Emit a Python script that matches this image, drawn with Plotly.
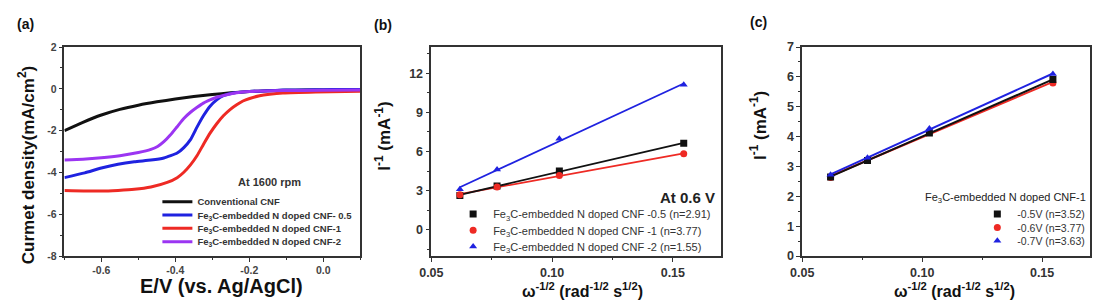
import plotly.graph_objects as go
import numpy as np

W, H = 1098, 305
FONT = "Liberation Sans, Arial, sans-serif"

# ---------------- data: panel (a) LSV curves ----------------
a_names = ["Conventional CNF",
           "Fe<sub>3</sub>C-embedded N doped CNF- 0.5",
           "Fe<sub>3</sub>C-embedded N doped CNF-1",
           "Fe<sub>3</sub>C-embedded N doped CNF-2"]
cnf_x = [-0.70, -0.65, -0.60, -0.55, -0.50, -0.45, -0.40, -0.35, -0.30, -0.25,
         -0.20, -0.15, -0.10, -0.05, 0.00, 0.05, 0.10]
cnf_y = [-2.00, -1.60, -1.25, -0.98, -0.78, -0.62, -0.49, -0.37, -0.27, -0.19,
         -0.13, -0.09, -0.07, -0.06, -0.06, -0.05, -0.05]
cnf05_x = [-0.700, -0.645, -0.600, -0.555, -0.511, -0.466, -0.431, -0.395, -0.377, -0.359,
           -0.341, -0.324, -0.306, -0.288, -0.270, -0.243, -0.199, -0.150, -0.109, -0.050,
           0.000, 0.050, 0.100]
cnf05_y = [-4.25, -4.02, -3.79, -3.61, -3.49, -3.41, -3.31, -3.07, -2.81, -2.43,
           -1.82, -1.29, -0.83, -0.53, -0.33, -0.20, -0.12, -0.09, -0.06, -0.05,
           -0.04, -0.03, -0.03]
cnf1_x = [-0.700, -0.600, -0.555, -0.511, -0.466, -0.422, -0.395, -0.377, -0.359, -0.341,
          -0.324, -0.306, -0.288, -0.270, -0.252, -0.234, -0.217, -0.199, -0.172, -0.145,
          -0.109, -0.020, 0.100]
cnf1_y = [-4.86, -4.89, -4.86, -4.81, -4.70, -4.48, -4.25, -3.99, -3.64, -3.19,
          -2.66, -2.12, -1.67, -1.29, -0.99, -0.76, -0.58, -0.46, -0.33, -0.26,
          -0.20, -0.15, -0.12]
cnf2_x = [-0.700, -0.650, -0.600, -0.550, -0.500, -0.466, -0.448, -0.431, -0.413, -0.395,
          -0.377, -0.359, -0.341, -0.324, -0.306, -0.288, -0.261, -0.234, -0.199, -0.109,
          0.000, 0.100]
cnf2_y = [-3.41, -3.37, -3.30, -3.20, -3.05, -2.90, -2.76, -2.53, -2.20, -1.81,
          -1.42, -1.12, -0.88, -0.68, -0.53, -0.40, -0.28, -0.19, -0.13, -0.08,
          -0.07, -0.06]

# ---------------- data: panel (b) K-L plots at 0.6 V ----------------
omega = [0.0618, 0.0772, 0.1030, 0.1545]
b_names = ["Fe<sub>3</sub>C-embedded N doped CNF -0.5 (n=2.91)",
           "Fe<sub>3</sub>C-embedded N doped CNF -1 (n=3.77)",
           "Fe<sub>3</sub>C-embedded N doped CNF -2 (n=1.55)"]
b_cnf05 = [2.63, 3.37, 4.51, 6.64]
b_cnf1 = [2.70, 3.29, 4.17, 5.83]
b_cnf2 = [3.12, 4.63, 6.98, 11.12]

# ---------------- data: panel (c) K-L plots for CNF-1 ----------------
c_names = ["-0.5V (n=3.52)", "-0.6V (n=3.77)", "-0.7V (n=3.63)"]
c_05 = [2.65, 3.20, 4.12, 5.91]
c_06 = [2.63, 3.22, 4.15, 5.80]
c_07 = [2.72, 3.29, 4.27, 6.10]

# tick labels
a_xticks = [-0.6, -0.4, -0.2, 0.0]
a_xtext = ["-0.6", "-0.4", "-0.2", "0.0"]
a_yticks = [-8, -6, -4, -2, 0, 2]
a_ytext = ["-8", "-6", "-4", "-2", "0", "2"]
kl_xticks = [0.05, 0.10, 0.15]
kl_xtext = ["0.05", "0.10", "0.15"]
b_yticks = [0, 3, 6, 9, 12]
c_yticks = [0, 1, 2, 3, 4, 5, 6, 7]

# ---------------- helpers ----------------
def px(x):
    return x / W

def py(y):
    return 1 - y / H

BLACK = "#111111"
BLUE = "#1f22e0"
RED = "#ee2a24"
PURPLE = "#9b35f2"

fig = go.Figure()

# panel a curves (each in its own single-entry legend for tight spacing)
a_series = [(cnf_x, cnf_y, BLACK), (cnf05_x, cnf05_y, BLUE),
            (cnf1_x, cnf1_y, RED), (cnf2_x, cnf2_y, PURPLE)]
for i, (xs, ys, col) in enumerate(a_series):
    fig.add_trace(go.Scatter(x=xs, y=ys, mode="lines", name=a_names[i],
                             line=dict(color=col, width=3, shape="spline", smoothing=0.5),
                             xaxis="x", yaxis="y", legend=f"legend{i+1}" if i else "legend"))

# panel b
b_series = [(b_cnf1, RED, "circle", 1), (b_cnf05, BLACK, "square", 0), (b_cnf2, BLUE, "triangle-up", 2)]
for ys, col, sym, k in b_series:
    coef = np.polyfit(omega, ys, 1)
    xf = [omega[0], omega[-1]]
    fig.add_trace(go.Scatter(x=xf, y=list(np.polyval(coef, xf)), mode="lines",
                             line=dict(color=col, width=1.8), showlegend=False,
                             xaxis="x2", yaxis="y2", hoverinfo="skip"))
for ys, col, sym, k in sorted(b_series, key=lambda s: s[3]):
    fig.add_trace(go.Scatter(x=omega, y=ys, mode="markers", name=b_names[k],
                             marker=dict(color=col, symbol=sym, size=7),
                             xaxis="x2", yaxis="y2", legend=f"legend{5+k}"))

# panel c
c_series = [(c_06, RED, "circle", 1), (c_05, BLACK, "square", 0), (c_07, BLUE, "triangle-up", 2)]
for ys, col, sym, k in c_series:
    coef = np.polyfit(omega, ys, 1)
    xf = [omega[0], omega[-1]]
    fig.add_trace(go.Scatter(x=xf, y=list(np.polyval(coef, xf)), mode="lines",
                             line=dict(color=col, width=2.0), showlegend=False,
                             xaxis="x3", yaxis="y3", hoverinfo="skip"))
    fig.add_trace(go.Scatter(x=omega, y=ys, mode="markers", name=c_names[k],
                             marker=dict(color=col, symbol=sym, size=7),
                             xaxis="x3", yaxis="y3", legend=f"legend{8+k}"))

# ---------------- axes ----------------
def axis_common(**kw):
    d = dict(showline=True, mirror=True, linecolor="#333333", linewidth=1.6,
             ticks="outside", ticklen=4, tickwidth=1.4, tickcolor="#333333",
             showgrid=False, zeroline=False,
             tickfont=dict(family=FONT, size=12.5, color="#333333", weight="bold"))
    d.update(kw)
    return d

ydom = [py(261), py(42)]
layout_axes = dict(
    xaxis=axis_common(domain=[px(53), px(352)], range=[-0.7, 0.1], anchor="y",
                      tickvals=a_xticks, ticktext=a_xtext,
                      minor=dict(ticks="outside", ticklen=2.5, tick0=-0.5, dtick=0.2, tickcolor="#333333"),
                      tickfont=dict(family=FONT, size=10.5, color="#444444", weight="bold")),
    yaxis=axis_common(domain=ydom, range=[-8, 2], anchor="x",
                      tickvals=a_yticks, ticktext=a_ytext,
                      minor=dict(ticks="outside", ticklen=2.5, tick0=-7, dtick=2, tickcolor="#333333"),
                      tickfont=dict(family=FONT, size=10.5, color="#444444", weight="bold")),
    xaxis2=axis_common(domain=[px(424), px(717)], range=[0.05, 0.17], anchor="y2",
                       tickvals=kl_xticks, ticktext=kl_xtext,
                       minor=dict(ticks="outside", ticklen=2.5, tick0=0.075, dtick=0.05, tickcolor="#333333")),
    yaxis2=axis_common(domain=ydom, range=[-2, 14], anchor="x2", tickvals=b_yticks,
                       minor=dict(ticks="outside", ticklen=2.5, tick0=-1.5, dtick=3, tickcolor="#333333")),
    xaxis3=axis_common(domain=[px(799), px(1090)], range=[0.05, 0.17], anchor="y3",
                       tickvals=kl_xticks, ticktext=kl_xtext,
                       minor=dict(ticks="outside", ticklen=2.5, tick0=0.075, dtick=0.05, tickcolor="#333333")),
    yaxis3=axis_common(domain=ydom, range=[0, 7], anchor="x3", tickvals=c_yticks,
                       minor=dict(ticks="outside", ticklen=2.5, tick0=0.5, dtick=1, tickcolor="#333333")),
)

# ---------------- legends ----------------
legends = {}
a_rows = [204, 218, 232, 246]
for i, yr in enumerate(a_rows):
    key = "legend" if i == 0 else f"legend{i+1}"
    legends[key] = dict(x=px(147), y=py(yr), xanchor="left", yanchor="middle",
                        bgcolor="rgba(0,0,0,0)", itemwidth=30,
                        font=dict(family=FONT, size=9.5, color="#333333", weight="bold"))
b_rows = [217, 234, 251]
for k, yr in enumerate(b_rows):
    legends[f"legend{5+k}"] = dict(x=px(446), y=py(yr), xanchor="left", yanchor="middle",
                                   bgcolor="rgba(0,0,0,0)", itemwidth=30,
                                   font=dict(family=FONT, size=11, color="#333333"))
c_rows = [217, 231, 245]
for k, yr in enumerate(c_rows):
    legends[f"legend{8+k}"] = dict(x=px(976), y=py(yr), xanchor="left", yanchor="middle",
                                   bgcolor="rgba(0,0,0,0)", itemwidth=30,
                                   font=dict(family=FONT, size=10.5, color="#333333"))

# ---------------- annotations ----------------
def ann(text, x, y, size, bold=True, angle=0, xanchor="center", color="#111111"):
    return dict(text=text, x=px(x), y=py(y), xref="paper", yref="paper", showarrow=False,
                xanchor=xanchor, yanchor="middle", textangle=angle,
                font=dict(family=FONT, size=size, color=color, weight="bold" if bold else "normal"))

annotations = [
    ann("(a)", 3, 18, 14, xanchor="left"),
    ann("(b)", 364, 19, 14, xanchor="left"),
    ann("(c)", 744, 16, 14, xanchor="left"),
    ann("E/V (vs. Ag/AgCl)", 212, 292, 20),
    ann("Curmet density(mA/cm<sup>2</sup>)", 15, 166, 17, angle=-90),
    ann("ω<sup>-1/2</sup> (rad<sup>-1/2</sup> s<sup>1/2</sup>)", 577, 297, 16),
    ann("I<sup>-1</sup> (mA<sup>-1</sup>)", 375, 135, 17, angle=-90),
    ann("ω<sup>-1/2</sup> (rad<sup>-1/2</sup> s<sup>1/2</sup>)", 953, 297, 16),
    ann("I<sup>-1</sup> (mA<sup>-1</sup>)", 755, 124, 17, angle=-90),
    ann("At 1600 rpm", 260, 183, 11, color="#333333"),
    ann("At 0.6 V", 713, 200, 15, xanchor="right", color="#222222"),
    ann("Fe<sub>3</sub>C-embedded N doped CNF-1", 1088, 200, 11, bold=False, xanchor="right", color="#222222"),
]

fig.update_layout(width=W, height=H, margin=dict(l=0, r=0, t=0, b=0),
                  paper_bgcolor="white", plot_bgcolor="white",
                  font=dict(family=FONT, color="#111111"),
                  showlegend=True, annotations=annotations, **layout_axes, **legends)

fig.write_html("out.html")
